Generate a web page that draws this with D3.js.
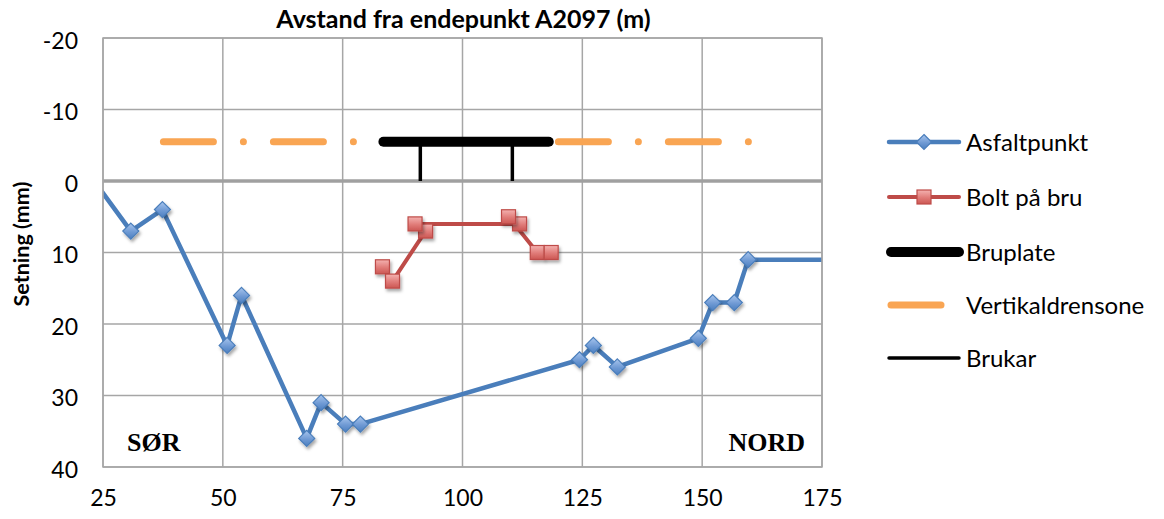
<!DOCTYPE html>
<html>
<head>
<meta charset="utf-8">
<script src="https://cdn.jsdelivr.net/npm/d3@7"></script>
<style>
  html, body { margin: 0; padding: 0; background: #fff; }
  svg { display: block; font-family: Lato, "Open Sans", sans-serif; }
</style>
</head>
<body>
<svg id="chart" width="1164" height="519"></svg>
<script>
// Settlement along the road (distance from end point A2097, metres)
const asfaltX = [22, 30.8, 37.4, 50.9, 53.9, 67.5, 70.5, 75.6, 78.7, 124.4, 127.3, 132.3, 149.2, 152.2, 156.7, 159.6, 180];
const asfaltY = [-1.05, 7, 4, 23, 16, 36, 31, 34, 34, 25, 23, 26, 22, 17, 17, 11, 11];

// Bolts on the bridge deck
const boltX = [83.3, 85.4, 92.3, 90.1, 111.9, 109.6, 115.6, 118.5];
const boltY = [12, 14, 7, 6, 6, 5, 10, 10];

// Bridge deck drawn as a level bar, abutments as short verticals down to 0
const bruplateX = [83.5, 118];
const bruplateY = [-5.5, -5.5];
const brukarX = [91.2, 110.4];
const brukarTop = -5.5;
const brukarBottom = 0;

// Vertical drainage zones on both sides of the bridge
const drensVenstreX = [37.6, 90];
const drensHoyreX = [120, 160];
const drensY = -5.5;

const xTicks = [25, 50, 75, 100, 125, 150, 175];
const yTicks = [-20, -10, 0, 10, 20, 30, 40];

const seriesNames = ["Asfaltpunkt", "Bolt på bru", "Bruplate", "Vertikaldrensone", "Brukar"];

const svg = d3.select("#chart");
const plot = { left: 103, right: 822, top: 38, bottom: 467 };

const x = d3.scaleLinear().domain([25, 175]).range([plot.left, plot.right]);
const y = d3.scaleLinear().domain([-20, 40]).range([plot.top, plot.bottom]);

const defs = svg.append("defs");
defs.append("clipPath").attr("id", "plotClip")
  .append("rect")
  .attr("x", plot.left).attr("y", plot.top)
  .attr("width", plot.right - plot.left).attr("height", plot.bottom - plot.top);

const shadow = defs.append("filter").attr("id", "shadow")
  .attr("x", "-50%").attr("y", "-50%").attr("width", "200%").attr("height", "200%");
shadow.append("feDropShadow").attr("dx", 1.5).attr("dy", 2.5)
  .attr("stdDeviation", 1.6).attr("flood-color", "#000").attr("flood-opacity", 0.35);

const gBlue = defs.append("linearGradient").attr("id", "gradBlue")
  .attr("x1", 0).attr("y1", 0).attr("x2", 0).attr("y2", 1);
gBlue.append("stop").attr("offset", "0%").attr("stop-color", "#a9c6ee");
gBlue.append("stop").attr("offset", "55%").attr("stop-color", "#6f9ad4");
gBlue.append("stop").attr("offset", "100%").attr("stop-color", "#4c7fc0");

const gRed = defs.append("linearGradient").attr("id", "gradRed")
  .attr("x1", 0).attr("y1", 0).attr("x2", 0).attr("y2", 1);
gRed.append("stop").attr("offset", "0%").attr("stop-color", "#f4b2b0");
gRed.append("stop").attr("offset", "55%").attr("stop-color", "#e07b78");
gRed.append("stop").attr("offset", "100%").attr("stop-color", "#cc5753");

const gridColor = "#a6a6a6";

// Gridlines
const grid = svg.append("g");
grid.selectAll("line.v").data(xTicks).enter().append("line")
  .attr("x1", d => x(d)).attr("x2", d => x(d))
  .attr("y1", plot.top).attr("y2", plot.bottom)
  .attr("stroke", gridColor).attr("stroke-width", 1.5);
grid.selectAll("line.h").data(yTicks).enter().append("line")
  .attr("x1", plot.left).attr("x2", plot.right)
  .attr("y1", d => y(d)).attr("y2", d => y(d))
  .attr("stroke", gridColor).attr("stroke-width", 1.5);

// Horizontal axis line at zero
svg.append("line")
  .attr("x1", plot.left).attr("x2", plot.right)
  .attr("y1", y(0)).attr("y2", y(0))
  .attr("stroke", "#a0a0a0").attr("stroke-width", 3.5);

// Axis labels (plain hyphen for negatives)
const fmt = d => String(d);
const yAxis = d3.axisLeft(y).tickValues(yTicks).tickSize(0).tickPadding(0).tickFormat(fmt);
const yAxisG = svg.append("g").attr("transform", `translate(${plot.left - 25},0)`).call(yAxis);
yAxisG.select(".domain").remove();
yAxisG.selectAll("text")
  .attr("font-family", "Lato, sans-serif").attr("font-size", 23).attr("fill", "#000")
  .attr("dy", "0.45em");

const xAxis = d3.axisBottom(x).tickValues(xTicks).tickSize(0).tickPadding(0).tickFormat(fmt);
const xAxisG = svg.append("g").attr("transform", `translate(0,${plot.bottom + 23})`).call(xAxis);
xAxisG.select(".domain").remove();
xAxisG.selectAll("text")
  .attr("font-family", "Lato, sans-serif").attr("font-size", 23).attr("fill", "#000");

// Titles
svg.append("text")
  .attr("x", (plot.left + plot.right) / 2 + 1).attr("y", 28)
  .attr("text-anchor", "middle").attr("font-weight", "bold").attr("font-size", 25)
  .text("Avstand fra endepunkt A2097 (m)");
svg.append("text")
  .attr("transform", "translate(29,244) rotate(-90)")
  .attr("text-anchor", "middle").attr("font-weight", "bold").attr("font-size", 21.5)
  .text("Setning (mm)");

// Region labels
svg.append("text").attr("x", x(30)).attr("y", y(37.8))
  .attr("font-family", "'Liberation Serif', serif").attr("font-weight", "bold").attr("font-size", 26)
  .text("SØR");
svg.append("text").attr("x", 805).attr("y", y(37.8)).attr("text-anchor", "end")
  .attr("font-family", "'Liberation Serif', serif").attr("font-weight", "bold").attr("font-size", 26)
  .text("NORD");

const data = (xs, ys) => xs.map((v, i) => [v, ys[i]]);
const line = d3.line().x(d => x(d[0])).y(d => y(d[1]));

const marks = svg.append("g").attr("clip-path", "url(#plotClip)");

// Vertikaldrensone (long dash - dot)
const drensDash = "50 30 0 30";
[drensVenstreX, drensHoyreX].forEach(xs => {
  marks.append("path")
    .attr("d", line(xs.map(v => [v, drensY])))
    .attr("fill", "none").attr("stroke", "#f9a553").attr("stroke-width", 7)
    .attr("stroke-linecap", "round").attr("stroke-dasharray", drensDash);
});

// Brukar
marks.selectAll("line.brukar").data(brukarX).enter().append("line")
  .attr("x1", d => x(d)).attr("x2", d => x(d))
  .attr("y1", y(brukarTop)).attr("y2", y(brukarBottom))
  .attr("stroke", "#000").attr("stroke-width", 3.5);

// Bruplate
marks.append("path")
  .attr("d", line(data(bruplateX, bruplateY)))
  .attr("fill", "none").attr("stroke", "#000").attr("stroke-width", 10)
  .attr("stroke-linecap", "round");

// Asfaltpunkt
const asfalt = data(asfaltX, asfaltY);
marks.append("path").attr("d", line(asfalt))
  .attr("fill", "none").attr("stroke", "#4a7ebb").attr("stroke-width", 4.5)
  .attr("stroke-linejoin", "round");
marks.selectAll("path.dia").data(asfalt).enter().append("path")
  .attr("d", "M0,-8L8,0L0,8L-8,0Z")
  .attr("transform", d => `translate(${x(d[0])},${y(d[1])})`)
  .attr("fill", "url(#gradBlue)").attr("stroke", "#4a7ebb").attr("stroke-width", 1.2)
  .attr("filter", "url(#shadow)");

// Bolt på bru
const bolt = data(boltX, boltY);
marks.append("path").attr("d", line(bolt))
  .attr("fill", "none").attr("stroke", "#be4b48").attr("stroke-width", 4)
  .attr("stroke-linejoin", "round");
marks.selectAll("rect.sq").data(bolt).enter().append("rect")
  .attr("x", d => x(d[0]) - 7).attr("y", d => y(d[1]) - 7)
  .attr("width", 14).attr("height", 14)
  .attr("fill", "url(#gradRed)").attr("stroke", "#be4b48").attr("stroke-width", 1.2)
  .attr("filter", "url(#shadow)");

// Plot border
svg.append("rect")
  .attr("x", plot.left).attr("y", plot.top)
  .attr("width", plot.right - plot.left).attr("height", plot.bottom - plot.top)
  .attr("fill", "none").attr("stroke", gridColor).attr("stroke-width", 1.5);

// Legend
const legY = [142, 197, 252, 305, 358];
const leg = svg.append("g");
const lx1 = 889, lx2 = 959, ltx = 966;
seriesNames.forEach((name, i) => {
  const ly = legY[i];
  const g = leg.append("g");
  if (i === 0) {
    g.append("line").attr("x1", lx1).attr("x2", lx2).attr("y1", ly).attr("y2", ly)
      .attr("stroke", "#4a7ebb").attr("stroke-width", 4.5).attr("stroke-linecap", "round");
    g.append("path").attr("d", "M0,-7.5L7.5,0L0,7.5L-7.5,0Z")
      .attr("transform", `translate(${(lx1 + lx2) / 2},${ly})`)
      .attr("fill", "url(#gradBlue)").attr("stroke", "#4a7ebb").attr("stroke-width", 1.2);
  } else if (i === 1) {
    g.append("line").attr("x1", lx1).attr("x2", lx2).attr("y1", ly).attr("y2", ly)
      .attr("stroke", "#be4b48").attr("stroke-width", 4).attr("stroke-linecap", "round");
    g.append("rect").attr("x", (lx1 + lx2) / 2 - 7).attr("y", ly - 7)
      .attr("width", 14).attr("height", 14)
      .attr("fill", "url(#gradRed)").attr("stroke", "#be4b48").attr("stroke-width", 1.2);
  } else if (i === 2) {
    g.append("line").attr("x1", lx1 + 2).attr("x2", lx2).attr("y1", ly).attr("y2", ly)
      .attr("stroke", "#000").attr("stroke-width", 10).attr("stroke-linecap", "round");
  } else if (i === 3) {
    g.append("line").attr("x1", lx1 + 2).attr("x2", lx2).attr("y1", ly).attr("y2", ly)
      .attr("stroke", "#f9a553").attr("stroke-width", 7).attr("stroke-linecap", "round")
      .attr("stroke-dasharray", drensDash);
  } else {
    g.append("line").attr("x1", lx1).attr("x2", lx2).attr("y1", ly).attr("y2", ly)
      .attr("stroke", "#000").attr("stroke-width", 3.5).attr("stroke-linecap", "round");
  }
  g.append("text").attr("x", ltx).attr("y", ly).attr("dy", "0.36em")
    .attr("font-size", 24).text(name);
});
</script>
</body>
</html>
